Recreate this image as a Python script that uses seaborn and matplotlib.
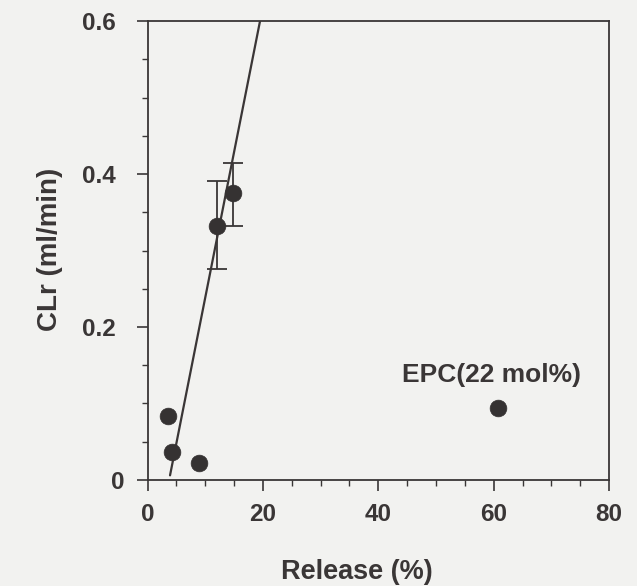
import matplotlib
matplotlib.use("Agg")
import matplotlib.pyplot as plt
import matplotlib.transforms as mtransforms
import seaborn as sns
import pandas as pd
from matplotlib.ticker import MultipleLocator

# data
release = [3.6, 4.2, 8.9, 12.1, 14.8, 60.8]
clr = [0.083, 0.037, 0.022, 0.332, 0.375, 0.094]
err_x = [12.1, 14.8]
err_y = [0.332, 0.375]
err_lo = [0.056, 0.043]
err_hi = [0.059, 0.040]
fit_x = [3.9, 19.5]
fit_y = [0.006, 0.6]
annot_text = "EPC(22 mol%)"
x_ticks = [0, 20, 40, 60, 80]
y_ticks = [0, 0.2, 0.4, 0.6]
y_ticklabels = ["0", "0.2", "0.4", "0.6"]

sns.set_theme(style="ticks")
plt.rcParams['font.family'] = ['Liberation Sans', 'DejaVu Sans']

bg = "#f2f2f0"
ink = "#3a3636"
fig = plt.figure(figsize=(6.37, 5.86), dpi=100, facecolor=bg)
ax = fig.add_axes([0.2316, 0.181, 0.7245, 0.783])
ax.set_facecolor(bg)

df = pd.DataFrame({"Release": release, "CLr": clr})
fit = pd.DataFrame({"x": fit_x, "y": fit_y})

sns.lineplot(data=fit, x="x", y="y", ax=ax, color=ink, linewidth=1.6)
ax.errorbar(err_x, err_y, yerr=[err_lo, err_hi], fmt="none", ecolor=ink,
            elinewidth=1.3, capsize=7, capthick=1.3)
sns.scatterplot(data=df, x="Release", y="CLr", ax=ax, color="#353232",
                s=145, edgecolor="#353232", linewidth=0.5, zorder=5)

ax.text(59.7, 0.137, annot_text, ha="center", va="center",
        fontsize=19, fontweight="bold", color=ink)

ax.set_xlim(0, 80)
ax.set_ylim(0, 0.6)
ax.set_xticks(x_ticks)
ax.set_xticklabels([str(t) for t in x_ticks])
ax.set_yticks(y_ticks)
ax.set_yticklabels(y_ticklabels)
ax.xaxis.set_minor_locator(MultipleLocator(5))
ax.yaxis.set_minor_locator(MultipleLocator(0.05))

for s in ax.spines.values():
    s.set_color(ink)
    s.set_linewidth(1.3)

ax.tick_params(axis="both", which="major", direction="out", length=8, width=1.2,
               color=ink, labelsize=17.5, labelcolor=ink)
ax.tick_params(axis="x", which="major", pad=8.5)
ax.tick_params(axis="y", which="major", pad=15)
ax.tick_params(axis="both", which="minor", direction="out", length=4.5, width=1.0,
               color=ink)
for lab in ax.get_xticklabels() + ax.get_yticklabels():
    lab.set_fontweight("bold")
# the "0" on the y axis sits closer to the axis in the original
ylabs = ax.get_yticklabels()
ylabs[0].set_transform(ylabs[0].get_transform() +
                       mtransforms.ScaledTranslation(9 / 100, 0, fig.dpi_scale_trans))

ax.set_xlabel("Release (%)", fontsize=19.5, fontweight="bold", color=ink)
ax.set_ylabel("CLr (ml/min)", fontsize=20, fontweight="bold", color=ink)
ax.xaxis.label.set_va("center")
ax.yaxis.label.set_va("center")
ax.xaxis.set_label_coords(0.454, -0.2)
ax.yaxis.set_label_coords(-0.211, 0.503)

fig.savefig("out.png", dpi=100, facecolor=bg)
